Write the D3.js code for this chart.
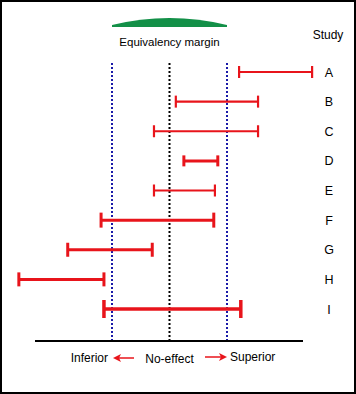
<!DOCTYPE html>
<html>
<head>
<meta charset="utf-8">
<script src="https://cdn.jsdelivr.net/npm/d3@7"></script>
<style>
  html, body { margin: 0; padding: 0; background: #fff; }
  svg { display: block; }
  text { font-family: "Liberation Sans", Arial, sans-serif; font-size: 11.5px; fill: #000; }
</style>
</head>
<body>
<svg id="chart" width="356" height="394"></svg>
<script>
// Data
const studies = ["A", "B", "C", "D", "E", "F", "G", "H", "I"];
const lower   = [1.21, 0.11, -0.27, 0.25, -0.27, -1.19, -1.77, -2.62, -1.14];
const upper   = [2.48, 1.54, 1.54, 0.84, 0.79, 0.77, -0.30, -1.14, 1.24];
const margins = [-1, 1];
const noEffect = 0;
const bottomLabels = ["Inferior", "No-effect", "Superior"];

// Styles (not data)
const strokeW = [2.2, 2.2, 2.2, 3, 2.2, 3, 3, 3, 3.5];
const capH    = [12, 12, 12, 11, 12, 15, 14, 14, 18];

const svg = d3.select("#chart");
const W = 356, H = 394;
const red = "#e8141b", blue = "#1a1aa8", green = "#139048";

// border
svg.append("rect").attr("x", 1).attr("y", 1).attr("width", W - 2).attr("height", H - 2)
  .attr("fill", "none").attr("stroke", "#000").attr("stroke-width", 2);

const x = d3.scaleLinear().domain([-1, 1]).range([112, 227]);
const y = d3.scalePoint().domain(studies).range([72, 309]);

const lineTop = 63, axisY = 341;

// Green arc (equivalency margin)
const ax0 = x(margins[0]), ax1 = x(margins[1]);
svg.append("path")
  .attr("d", `M${ax0},27 L${ax0},25 Q${(ax0 + ax1) / 2},11 ${ax1},25 L${ax1},27 Z`)
  .attr("fill", green);
svg.append("text").attr("x", (ax0 + ax1) / 2).attr("y", 46).attr("text-anchor", "middle")
  .text("Equivalency margin");
svg.append("text").attr("x", 328).attr("y", 39).attr("text-anchor", "middle")
  .style("font-size", "12px").text("Study");

// dotted reference lines
margins.forEach(m => {
  svg.append("line").attr("x1", x(m)).attr("x2", x(m)).attr("y1", lineTop).attr("y2", axisY)
    .attr("stroke", blue).attr("stroke-width", 2).attr("stroke-dasharray", "2,2");
});
svg.append("line").attr("x1", x(noEffect)).attr("x2", x(noEffect)).attr("y1", lineTop).attr("y2", axisY)
  .attr("stroke", "#000").attr("stroke-width", 2).attr("stroke-dasharray", "2,2");

// axis line
svg.append("line").attr("x1", 35).attr("x2", 303).attr("y1", axisY).attr("y2", axisY)
  .attr("stroke", "#000").attr("stroke-width", 2);

// intervals
const g = svg.append("g");
studies.forEach((s, i) => {
  const yy = y(s), x0 = x(lower[i]), x1 = x(upper[i]);
  const sw = strokeW[i], ch = capH[i];
  g.append("line").attr("x1", x0).attr("x2", x1).attr("y1", yy).attr("y2", yy)
    .attr("stroke", red).attr("stroke-width", sw);
  [x0, x1].forEach(xx => {
    g.append("line").attr("x1", xx).attr("x2", xx).attr("y1", yy - ch / 2).attr("y2", yy + ch / 2)
      .attr("stroke", red).attr("stroke-width", sw);
  });
  svg.append("text").attr("x", 329).attr("y", yy + 4.5).attr("text-anchor", "middle")
    .style("font-size", "12.5px").text(s);
});

// bottom labels
const ly = 362;
svg.append("text").attr("x", 108).attr("y", ly).attr("text-anchor", "end")
  .style("font-size", "12px").text(bottomLabels[0]);
svg.append("text").attr("x", x(noEffect)).attr("y", ly + 1).attr("text-anchor", "middle")
  .style("font-size", "12px").text(bottomLabels[1]);
svg.append("text").attr("x", 230).attr("y", ly - 1).attr("text-anchor", "start")
  .style("font-size", "12px").text(bottomLabels[2]);

// arrows
function arrow(xs, xe, yy) {
  const dir = Math.sign(xe - xs);
  svg.append("line").attr("x1", xs).attr("x2", xe - dir * 5).attr("y1", yy).attr("y2", yy)
    .attr("stroke", red).attr("stroke-width", 1.5);
  svg.append("path")
    .attr("d", `M${xe},${yy} L${xe - dir * 8},${yy - 4} L${xe - dir * 6},${yy} L${xe - dir * 8},${yy + 4} Z`)
    .attr("fill", red);
}
arrow(134, 113, 358);
arrow(205, 227, 357);
</script>
</body>
</html>
